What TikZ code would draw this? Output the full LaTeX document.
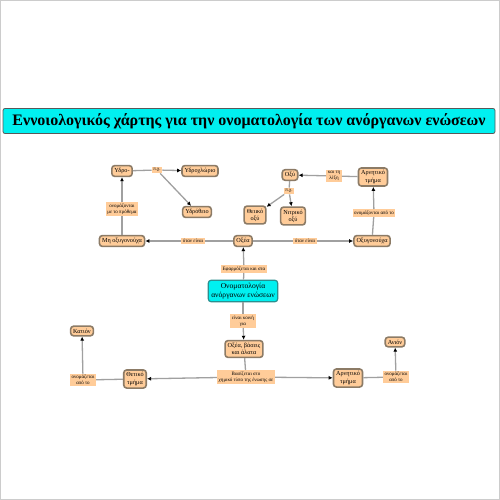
\documentclass[tikz,border=0pt]{standalone}
\usepackage{fontspec}
\setmainfont{Liberation Serif}
\usetikzlibrary{arrows.meta}
\definecolor{nodefill}{HTML}{FFCC99}
\definecolor{nodeedge}{HTML}{8C7B66}
\definecolor{linegray}{HTML}{A0A0A0}
\definecolor{titlecyan}{HTML}{00F0F0}
\definecolor{mainedge}{HTML}{2A8F8F}
\tikzset{
  concept/.style={draw=nodeedge, line width=1.6pt, fill=nodefill, rounded corners=3pt,
    align=center, inner sep=2.6pt, font=\fontsize{6.2}{7.2}\selectfont},
  mainbox/.style={concept, fill=titlecyan, draw=mainedge, line width=1.2pt,
    font=\fontsize{7.6}{8.6}\selectfont, inner sep=3pt},
  lbl/.style={fill=nodefill, align=center, inner sep=1.5pt, font=\fontsize{5}{6}\selectfont},
  conn/.style={draw=linegray, line width=1.3pt},
  arr/.style={conn, -{Latex[length=4pt,width=4pt,black]}}
}
\begin{document}
\begin{tikzpicture}[x=1pt,y=-1pt]
\useasboundingbox (0,0) rectangle (500,500);
\draw[gray!40, line width=1pt] (0.5,0.5) rectangle (499.5,499.5);
% title
\node[draw=gray!70!black, line width=0.8pt, fill=titlecyan, rounded corners=2pt,
  minimum width=492pt, minimum height=25pt, inner sep=0pt,
  font=\fontsize{16}{18}\selectfont\bfseries] (title) at (249,121)
  {Εννοιολογικός χάρτης για την ονοματολογία των ανόργανων ενώσεων};

% nodes
\node[mainbox] (main) at (243,291) {Ονοματολογία\\ανόργανων ενώσεων};
\node[concept] (oxea) at (243,241) {Οξέα};
\node[concept] (mho) at (122,241) {Μη οξυγονούχα};
\node[concept] (oxyg) at (372,241) {Οξυγονούχα};
\node[concept] (ydro) at (122,171) {Υδρο-};
\node[concept] (ydrocl) at (200,171) {Υδροχλώριο};
\node[concept] (ydroth) at (197,212) {Υδρόθειο};
\node[concept] (arnT) at (373,177) {Αρνητικό\\τμήμα};
\node[concept] (oxy) at (290,175) {Οξύ};
\node[concept] (theiiko) at (255,215) {Θειικό\\οξύ};
\node[concept] (nitriko) at (293,216) {Νιτρικό\\οξύ};
\node[concept] (oba) at (244,349) {Οξέα, βάσεις\\και άλατα};
\node[concept] (thet) at (135,379) {Θετικό\\τμήμα};
\node[concept] (arnB) at (348,378) {Αρνητικό\\τμήμα};
\node[concept] (kation) at (82,331) {Κατιόν};
\node[concept] (anion) at (395,342) {Ανιόν};

% labels
\node[lbl] (l1) at (193,241) {όταν είναι};
\node[lbl] (l2) at (305,241) {όταν είναι};
\node[lbl] (l3) at (122,209) {ονομάζονται\\με το πρόθεμα};
\node[lbl] (l4) at (157,170) {π.χ.};
\node[lbl] (l5) at (374,213) {ονομάζονται από το};
\node[lbl] (l6) at (334,176) {και τη\\λέξη};
\node[lbl] (l7) at (289,191) {π.χ.};
\node[lbl] (l8) at (244,269) {Εφαρμόζεται και στα};
\node[lbl] (l9) at (243,321) {είναι κοινή\\για};
\node[lbl] (l10) at (246,377) {Βασίζεται στο\\χημικό τύπο της ένωσης σε};
\node[lbl] (l11) at (83,380) {ονομάζεται\\από το};
\node[lbl] (l12) at (396,377) {ονομάζεται\\από το};

% connectors
\draw[conn] (main) -- (l8); \draw[arr] (l8) -- (oxea);
\draw[conn] (oxea) -- (l1); \draw[arr] (l1) -- (mho);
\draw[conn] (oxea) -- (l2); \draw[arr] (l2) -- (oxyg);
\draw[conn] (mho) -- (l3); \draw[arr] (l3) -- (ydro);
\draw[conn] (ydro) -- (l4); \draw[arr] (l4) -- (ydrocl); \draw[arr] (l4) -- (ydroth);
\draw[conn] (oxyg) -- (l5); \draw[arr] (l5) -- (arnT);
\draw[conn] (arnT) -- (l6); \draw[arr] (l6) -- (oxy);
\draw[conn] (oxy) -- (l7); \draw[arr] (l7) -- (theiiko); \draw[arr] (l7) -- (nitriko);
\draw[conn] (main) -- (l9); \draw[arr] (l9) -- (oba);
\draw[conn] (oba) -- (l10); \draw[arr] (l10) -- (thet); \draw[arr] (l10) -- (arnB);
\draw[conn] (thet) -- (l11); \draw[arr] (l11) -- (kation);
\draw[conn] (arnB) -- (l12); \draw[arr] (l12) -- (anion);
\end{tikzpicture}
\end{document}
